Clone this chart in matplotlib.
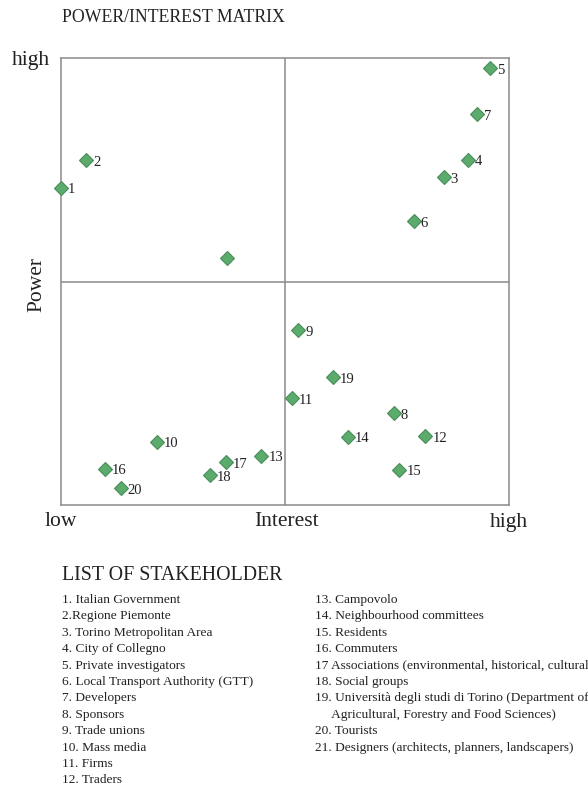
import matplotlib
matplotlib.use("Agg")
import matplotlib.pyplot as plt

plt.rcParams["font.family"] = ["Liberation Serif", "DejaVu Serif"]

# stakeholder positions on the matrix (interest, power), scale 0-10
labels = ["1", "2", "3", "4", "5", "6", "7", "8", "9", "10", "11",
          "12", "13", "14", "15", "16", "17", "18", "19", "20", ""]
interest = [0.0, 0.57, 8.55, 9.09, 9.59, 7.88, 9.30, 7.44, 5.31, 2.15, 5.17,
            8.14, 4.48, 6.42, 7.56, 0.99, 3.69, 3.34, 6.08, 1.34, 3.72]
power = [7.10, 7.72, 7.34, 7.73, 9.78, 6.35, 8.75, 2.05, 3.91, 1.42, 2.39,
         1.54, 1.10, 1.53, 0.79, 0.81, 0.96, 0.67, 2.86, 0.37, 5.53]

list_left = [
    "1. Italian Government",
    "2.Regione Piemonte",
    "3. Torino Metropolitan Area",
    "4. City of Collegno",
    "5. Private investigators",
    "6. Local Transport Authority (GTT)",
    "7. Developers",
    "8. Sponsors",
    "9. Trade unions",
    "10. Mass media",
    "11. Firms",
    "12. Traders",
]
list_right = [
    "13. Campovolo",
    "14. Neighbourhood committees",
    "15. Residents",
    "16. Commuters",
    "17 Associations (environmental, historical, cultural",
    "18. Social groups",
    "19. Università degli studi di Torino (Department of",
    "     Agricultural, Forestry and Food Sciences)",
    "20. Tourists",
    "21. Designers (architects, planners, landscapers)",
]

W, H = 588, 794
fig = plt.figure(figsize=(W / 100, H / 100), dpi=100)
ax = fig.add_axes([60.5 / W, 1 - 505 / H, 448.2 / W, 446.7 / H])

frame = "#8a8a8a"
ax.set_xlim(0, 10)
ax.set_ylim(0, 10)
ax.axvline(5, color=frame, lw=1.1)
ax.axhline(5, color=frame, lw=1.1)
for s in ax.spines.values():
    s.set_color(frame)
    s.set_linewidth(1.1)
ax.set_xticks([])
ax.set_yticks([])

ax.plot(interest, power, linestyle="none", marker="D", markersize=7.5,
        markerfacecolor="#5aab6c", markeredgecolor="#4a8d5a",
        markeredgewidth=0.8, clip_on=False, zorder=3)
for x, y, t in zip(interest, power, labels):
    ax.annotate(t, (x, y), xytext=(5, -1.5), textcoords="offset points",
                ha="left", va="center", fontsize=10.5, color="#222222")


def ftext(px, py, s, **kw):
    fig.text(px / W, 1 - py / H, s, color="#222222", **kw)


ftext(62, 18, "POWER/INTEREST MATRIX", fontsize=12.8, va="center")
ftext(12, 60, "high", fontsize=15.5, va="center")
ftext(45, 522, "low", fontsize=15.5, va="center")
ftext(286, 522, "Interest", fontsize=15.5, va="center", ha="center")
ftext(490, 522, "high", fontsize=15.5, va="center")
ftext(37, 285, "Power", fontsize=15.5, va="center", ha="center", rotation=90)

ftext(62, 575, "LIST OF STAKEHOLDER", fontsize=14.3, va="center")
step = 16.4
for i, s in enumerate(list_left):
    ftext(62, 600 + i * step, s, fontsize=9.6, va="center")
for i, s in enumerate(list_right):
    ftext(315, 600 + i * step, s, fontsize=9.6, va="center")

fig.savefig("out.png", dpi=100)
